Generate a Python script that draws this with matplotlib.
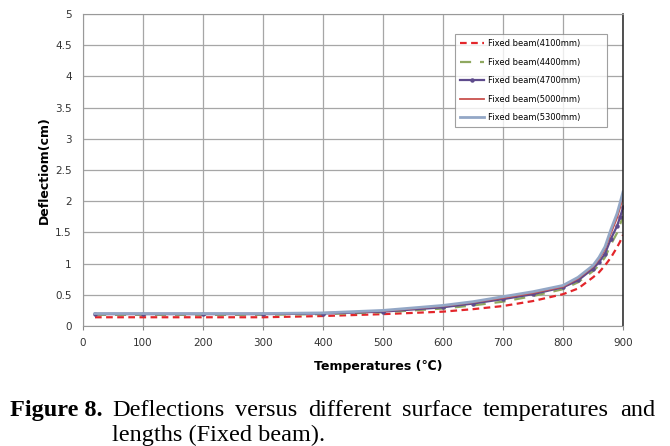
import matplotlib
matplotlib.use("Agg")
import matplotlib.pyplot as plt

# temperatures (deg C) and deflections (cm)
temps = [20, 100, 200, 300, 400, 500, 600, 650, 700, 750, 800, 825, 850, 860, 870, 880, 890, 895, 900]
d4100 = [0.14, 0.14, 0.14, 0.14, 0.16, 0.19, 0.23, 0.27, 0.32, 0.40, 0.51, 0.60, 0.78, 0.86, 0.97, 1.10, 1.26, 1.35, 1.46]
d4400 = [0.18, 0.18, 0.18, 0.18, 0.19, 0.22, 0.28, 0.33, 0.39, 0.48, 0.59, 0.70, 0.88, 0.97, 1.10, 1.31, 1.49, 1.62, 1.76]
d4700 = [0.19, 0.19, 0.19, 0.19, 0.20, 0.23, 0.30, 0.36, 0.43, 0.51, 0.62, 0.73, 0.92, 1.02, 1.16, 1.40, 1.60, 1.74, 1.90]
d5000 = [0.20, 0.20, 0.20, 0.20, 0.21, 0.24, 0.32, 0.38, 0.45, 0.53, 0.63, 0.76, 0.95, 1.07, 1.23, 1.49, 1.73, 1.89, 2.07]
d5300 = [0.20, 0.20, 0.20, 0.20, 0.21, 0.25, 0.33, 0.39, 0.47, 0.55, 0.65, 0.78, 0.97, 1.10, 1.27, 1.55, 1.80, 1.97, 2.15]

x_ticks = [0, 100, 200, 300, 400, 500, 600, 700, 800, 900]
y_ticks = [0, 0.5, 1, 1.5, 2, 2.5, 3, 3.5, 4, 4.5, 5]
y_labels = ["0", "0.5", "1", "1.5", "2", "2.5", "3", "3.5", "4", "4.5", "5"]

W, H = 670, 446
fig = plt.figure(figsize=(6.7, 4.46), dpi=100)
ax = fig.add_axes([83 / W, (H - 326) / H, 540 / W, 312 / H])

ax.plot(temps, d4100, color="#e3262b", linestyle=(0, (3, 2)), linewidth=1.6, label="Fixed beam(4100mm)")
ax.plot(temps, d4400, color="#8fa860", linestyle=(0, (5, 4)), linewidth=1.6, label="Fixed beam(4400mm)")
ax.plot(temps, d4700, color="#5e4b8c", linewidth=1.6, marker="o", markersize=2.2, label="Fixed beam(4700mm)")
ax.plot(temps, d5000, color="#c9504d", linewidth=1.3, label="Fixed beam(5000mm)")
ax.plot(temps, d5300, color="#93a7c6", linewidth=2.0, label="Fixed beam(5300mm)")

ax.set_xlim(0, 900)
ax.set_ylim(0, 5)
ax.set_xticks(x_ticks)
ax.set_yticks(y_ticks)
ax.set_yticklabels(y_labels)
ax.grid(True, color="#a6a6a6", linewidth=0.9)
ax.set_axisbelow(True)
ax.tick_params(axis="both", labelsize=7.5, colors="#333333", length=3, width=0.8)
ax.tick_params(axis="y", length=0, pad=8)
ax.tick_params(axis="x", color="#888888", pad=6)
for side in ["left", "top", "bottom"]:
    ax.spines[side].set_color("#999999")
ax.spines["right"].set_color("#222222")
ax.spines["right"].set_linewidth(1.1)

ax.set_xlabel("Temperatures (\u2103)", fontsize=9, fontweight="bold", labelpad=8, x=0.546)
ax.set_ylabel("Deflectiom(cm)", fontsize=9, fontweight="bold", labelpad=3)

# legend box: 455..607 px wide, top at 34 px
leg = ax.legend(loc="upper left", bbox_to_anchor=(372 / 540, 0.5, 152 / 540, 292 / 312 - 0.5),
                mode="expand", borderaxespad=0, fontsize=6,
                frameon=True, fancybox=False, edgecolor="#888888",
                handlelength=2.9, labelspacing=1.15, borderpad=0.6, handletextpad=0.4)
leg.get_frame().set_linewidth(0.8)

# caption, first line justified
cap_size = 17.5
serif = "Liberation Serif"
y1 = (H - 416) / H
y2 = (H - 441) / H
x0, x1 = 10 / W, 655 / W
xt = 112 / W
fig.text(x0, y1, "Figure 8.", fontsize=cap_size, fontweight="bold", family=serif, va="baseline")
words = ["Deflections", "versus", "different", "surface", "temperatures", "and"]
txts = [fig.text(0, y1, w, fontsize=cap_size, family=serif, va="baseline") for w in words]
fig.canvas.draw()
r = fig.canvas.get_renderer()
widths = [t.get_window_extent(r).width / W for t in txts]
gap = (x1 - xt - sum(widths)) / (len(words) - 1)
pos = xt
for t, w in zip(txts, widths):
    t.set_x(pos)
    pos += w + gap
fig.text(xt, y2, "lengths (Fixed beam).", fontsize=cap_size, family=serif, va="baseline")

fig.savefig("out.png", dpi=100)
